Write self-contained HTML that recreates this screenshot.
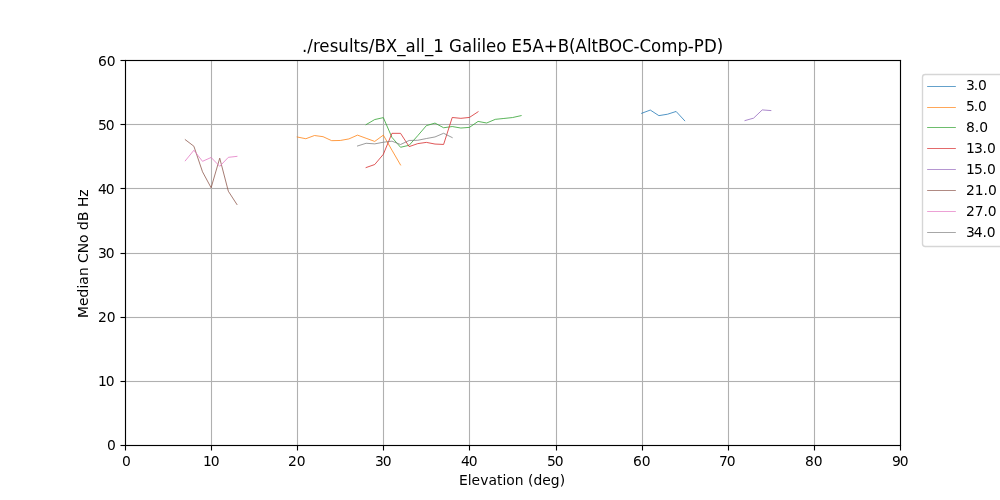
<!DOCTYPE html>
<html lang="en">
<head>
<meta charset="utf-8">
<title>./results/BX_all_1 Galileo E5A+B(AltBOC-Comp-PD)</title>
<style>
html,body{margin:0;padding:0;background:#ffffff;}
body{width:1000px;height:500px;overflow:hidden;}
svg{display:block;}
text{font-family:"DejaVu Sans","Liberation Sans",sans-serif;fill:#000000;}
.t10{font-size:13.889px;}
.series polyline{fill:none;stroke-width:0.78;stroke-linejoin:round;stroke-linecap:square;}
.leg line{stroke-width:0.694;stroke-linecap:butt;}
</style>
</head>
<body>
<svg width="1000" height="500" viewBox="0 0 1000 500">
<rect x="0" y="0" width="1000" height="500" fill="#ffffff"/>
<g fill="#b0b0b0">
<rect x="124.9445" y="60" width="1.111" height="385"/>
<rect x="210.9445" y="60" width="1.111" height="385"/>
<rect x="296.9445" y="60" width="1.111" height="385"/>
<rect x="382.9445" y="60" width="1.111" height="385"/>
<rect x="468.9445" y="60" width="1.111" height="385"/>
<rect x="555.9445" y="60" width="1.111" height="385"/>
<rect x="641.9445" y="60" width="1.111" height="385"/>
<rect x="727.9445" y="60" width="1.111" height="385"/>
<rect x="813.9445" y="60" width="1.111" height="385"/>
<rect x="899.9445" y="60" width="1.111" height="385"/>
<rect x="125" y="444.9445" width="775" height="1.111"/>
<rect x="125" y="380.9445" width="775" height="1.111"/>
<rect x="125" y="316.9445" width="775" height="1.111"/>
<rect x="125" y="252.9445" width="775" height="1.111"/>
<rect x="125" y="187.9445" width="775" height="1.111"/>
<rect x="125" y="123.9445" width="775" height="1.111"/>
<rect x="125" y="59.9445" width="775" height="1.111"/>
</g>
<g class="series">
<polyline stroke="#1f77b4" points="641.67,113.32 650.28,110.05 658.89,115.63 667.50,114.22 676.11,111.46 684.72,120.77"/>
<polyline stroke="#ff7f0e" points="297.22,137.00 305.83,138.73 314.44,135.52 323.06,136.68 331.67,140.66 340.28,140.47 348.89,138.93 357.50,135.14 366.11,138.28 374.72,141.43 383.33,135.14 391.94,150.15 400.56,164.98"/>
<polyline stroke="#2ca02c" points="366.11,124.62 374.72,119.55 383.33,117.62 391.94,137.39 400.56,147.27 409.17,145.28 417.78,135.65 426.39,125.64 435.00,123.08 443.61,127.76 452.22,126.54 460.83,128.02 469.44,127.38 478.06,121.41 486.67,123.01 495.28,119.35 503.89,118.46 512.50,117.56 521.11,115.63"/>
<polyline stroke="#d62728" points="366.11,167.54 374.72,164.53 383.33,154.32 391.94,133.34 400.56,133.34 409.17,146.62 417.78,143.61 426.39,142.39 435.00,144.06 443.61,144.44 452.22,117.49 460.83,118.33 469.44,117.43 478.06,111.78"/>
<polyline stroke="#9467bd" points="745.00,120.57 753.61,118.14 762.22,109.92 770.83,110.56"/>
<polyline stroke="#8c564b" points="185.28,139.69 193.89,146.24 202.50,171.78 211.11,187.76 219.72,158.18 228.33,191.22 236.94,204.50"/>
<polyline stroke="#e377c2" points="185.28,160.81 193.89,150.28 202.50,161.32 211.11,157.47 219.72,166.32 228.33,157.34 236.94,156.38"/>
<polyline stroke="#7f7f7f" points="357.50,145.98 366.11,143.29 374.72,143.87 383.33,142.26 391.94,141.17 400.56,144.51 409.17,140.47 417.78,140.27 426.39,138.54 435.00,136.94 443.61,133.28 452.22,137.58"/>
</g>
<g fill="#000000">
<rect x="124.9445" y="445.5" width="1.111" height="5.0"/>
<rect x="210.9445" y="445.5" width="1.111" height="5.0"/>
<rect x="296.9445" y="445.5" width="1.111" height="5.0"/>
<rect x="382.9445" y="445.5" width="1.111" height="5.0"/>
<rect x="468.9445" y="445.5" width="1.111" height="5.0"/>
<rect x="555.9445" y="445.5" width="1.111" height="5.0"/>
<rect x="641.9445" y="445.5" width="1.111" height="5.0"/>
<rect x="727.9445" y="445.5" width="1.111" height="5.0"/>
<rect x="813.9445" y="445.5" width="1.111" height="5.0"/>
<rect x="899.9445" y="445.5" width="1.111" height="5.0"/>
<rect x="120.5" y="444.9445" width="5.0" height="1.111"/>
<rect x="120.5" y="380.9445" width="5.0" height="1.111"/>
<rect x="120.5" y="316.9445" width="5.0" height="1.111"/>
<rect x="120.5" y="252.9445" width="5.0" height="1.111"/>
<rect x="120.5" y="187.9445" width="5.0" height="1.111"/>
<rect x="120.5" y="123.9445" width="5.0" height="1.111"/>
<rect x="120.5" y="59.9445" width="5.0" height="1.111"/>
<rect x="124.9445" y="59.9445" width="1.111" height="386.111"/>
<rect x="899.9445" y="59.9445" width="1.111" height="386.111"/>
<rect x="124.9445" y="59.9445" width="776.1110000000001" height="1.111"/>
<rect x="124.9445" y="444.9445" width="776.1110000000001" height="1.111"/>
</g>
<g class="t10">
<text x="121.97" y="466">0</text>
<text x="202.94 210.65" y="466">10</text>
<text x="287.92 296.64" y="466">20</text>
<text x="374.91 382.75" y="466">30</text>
<text x="460.89 468.73" y="466">40</text>
<text x="546.88 554.72" y="466">50</text>
<text x="632.99 641.71" y="466">60</text>
<text x="718.98 726.69" y="466">70</text>
<text x="804.96 813.68" y="466">80</text>
<text x="891.95 899.66" y="466">90</text>
<text x="106.98" y="450">0</text>
<text x="97.93 105.64" y="386">10</text>
<text x="97.93 106.64" y="322">20</text>
<text x="97.93 105.64" y="258">30</text>
<text x="97.93 105.64" y="194">40</text>
<text x="97.93 105.64" y="130">50</text>
<text x="97.93 106.64" y="66">60</text>
</g>
<text transform="matrix(0.9798 0 0 1 0 0)" font-size="17px" x="308.35 313.59 319.56 325.89 336.57 345.26 356.11 360.81 367.46 376.28 382.23 393.60 405.45 413.78 424.29 428.86 433.69 442.15 452.68 458.18 471.44 481.93 486.52 491.35 495.92 506.47 516.43 521.95 532.76 543.42 554.87 569.19 580.67 587.27 598.99 603.69 610.33 621.52 634.84 646.66 652.78 664.46 674.95 691.45 702.06 708.17 718.51 731.55" y="52">./results/BX_all_1 Galileo E5A+B(AltBOC-Comp-PD)</text>
<text class="t10" text-anchor="middle" x="512" y="485" textLength="106.125" lengthAdjust="spacing">Elevation (deg)</text>
<text class="t10" transform="translate(88,253.75) rotate(-90)" x="-64.31 -52.32 -43.76 -34.81 -31.06 -22.29 -13.73 -9.29 0.42 10.82 19.33 23.77 32.72 42.13 46.69 57.02">Median CNo dB Hz</text>
<g class="leg">
<rect x="922.5" y="74.5" width="81" height="172" rx="2.78" ry="2.78" fill="#ffffff" fill-opacity="0.8" stroke="#cccccc" stroke-opacity="0.8" stroke-width="1.389"/>
<line x1="927.15" y1="86.5" x2="955.85" y2="86.5" stroke="#1f77b4"/>
<text class="t10" x="965.89 973.73 977.89" y="90">3.0</text>
<line x1="927.15" y1="107.5" x2="955.85" y2="107.5" stroke="#ff7f0e"/>
<text class="t10" x="965.89 973.73 977.89" y="111">5.0</text>
<line x1="927.15" y1="127.5" x2="955.85" y2="127.5" stroke="#2ca02c"/>
<text class="t10" x="965.89 974.73 979.14" y="132">8.0</text>
<line x1="927.15" y1="148.5" x2="955.85" y2="148.5" stroke="#d62728"/>
<text class="t10" x="965.89 973.98 982.44 986.98" y="153">13.0</text>
<line x1="927.15" y1="169.5" x2="955.85" y2="169.5" stroke="#9467bd"/>
<text class="t10" x="965.89 973.98 982.44 986.98" y="174">15.0</text>
<line x1="927.15" y1="190.5" x2="955.85" y2="190.5" stroke="#8c564b"/>
<text class="t10" x="965.89 974.73 983.44 987.98" y="195">21.0</text>
<line x1="927.15" y1="211.5" x2="955.85" y2="211.5" stroke="#e377c2"/>
<text class="t10" x="965.89 974.73 983.44 987.73" y="216">27.0</text>
<line x1="927.15" y1="232.5" x2="955.85" y2="232.5" stroke="#7f7f7f"/>
<text class="t10" x="965.89 973.73 982.44 986.73" y="237">34.0</text>
</g>
</svg>
</body>
</html>
